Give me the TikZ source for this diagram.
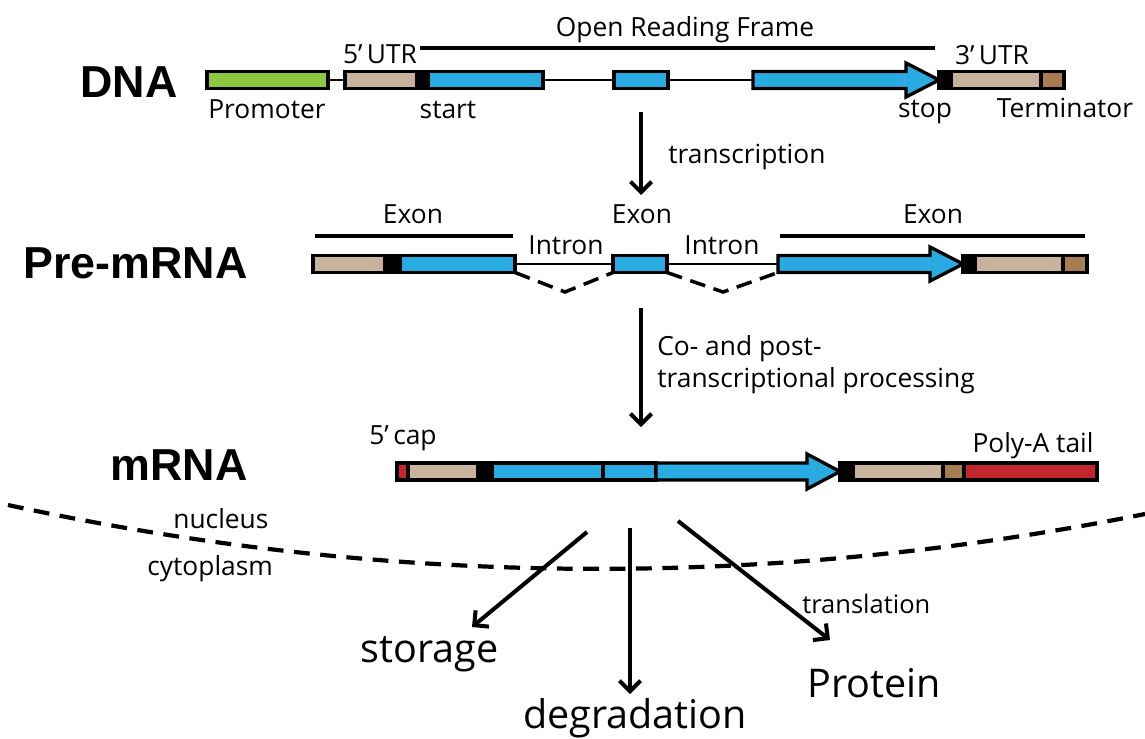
\documentclass[tikz,border=0pt]{standalone}
\usepackage{fontspec}
\setmainfont{Open Sans}
\setsansfont{Liberation Sans}
\usetikzlibrary{arrows.meta}
\definecolor{promcol}{HTML}{8DC63F}
\definecolor{utrcol}{HTML}{C9B29B}
\definecolor{cdscol}{HTML}{29ABE2}
\definecolor{termcol}{HTML}{A67C52}
\definecolor{capcol}{HTML}{C1272D}
\def\px{0.02cm}
\tikzstyle{seg}=[draw,line width=1.9pt,inner sep=0pt,outer sep=0pt,anchor=west,minimum height=17*\px]
\tikzstyle{outl}=[draw,line width=1.9pt,line join=miter]
\tikzstyle{line}=[black,line width=1.3pt]
\tikzstyle{bar}=[black,line width=2.3pt]
\tikzstyle{arrow}=[->,line width=2.3pt]
\tikzstyle{lbl}=[inner sep=0pt,anchor=base,font=\fontsize{15}{18}\selectfont]
\tikzstyle{big}=[inner sep=0pt,anchor=base west,font=\fontsize{22.5}{27}\selectfont]
\tikzstyle{row}=[inner sep=0pt,anchor=base east,font=\sffamily\bfseries\fontsize{25.5}{30}\selectfont]

\begin{document}
\begin{tikzpicture}[x=0.02cm,y=-0.02cm,>={Straight Barb[length=6pt,width=12pt]}]
	\useasboundingbox (0,0) rectangle (1145,738);

	% DNA
	\node[row] (dna) at (178,97) {DNA};
	\node[seg,fill=promcol,minimum width=121*\px] (d1) at (207,80) {};
	\node[seg,fill=utrcol,minimum width=72*\px] (d2) at (345,80) {};
	\node[seg,fill=black,minimum width=11*\px] (d3) at (d2.east) {};
	\node[seg,fill=cdscol,minimum width=115*\px] (d4) at (d3.east) {};
	\node[seg,fill=cdscol,minimum width=54*\px] (d5) at (614,80) {};
	\coordinate (d6) at (753,80);
	\draw[outl,fill=cdscol] (753,71.5) -- (906,71.5) -- (906,63) -- (939,80)
		-- (906,97) -- (906,88.5) -- (753,88.5) -- cycle;
	\node[seg,fill=black,minimum width=12*\px] (d7) at (939,80) {};
	\node[seg,fill=utrcol,minimum width=90*\px] (d8) at (d7.east) {};
	\node[seg,fill=termcol,minimum width=23*\px] (d9) at (d8.east) {};
	\draw[line] (d1) -- (d2);
	\draw[line] (d4) -- (d5);
	\draw[line] (d5) -- (d6);
	\draw[bar] (420,48) -- (935,48);
	\node[lbl] (orf) at (685,36) {Open Reading Frame};
	\node[lbl] (u5) at (380,63) {5’\,UTR};
	\node[lbl] (u3) at (992,64) {3’\,UTR};
	\node[lbl] (prom) at (267,118) {Promoter};
	\node[lbl] (start) at (448,118) {start};
	\node[lbl] (stop) at (925,117) {stop};
	\node[lbl] (term) at (1065,117) {Terminator};

	\coordinate (t0) at (641,112);
	\coordinate (t1) at (641,195);
	\draw[arrow] (t0) -- (t1);
	\node[lbl,anchor=base west] (tr) at (668,163) {transcription};

	% Pre-mRNA
	\node[row] (pre) at (248,278) {Pre-mRNA};
	\node[seg,fill=utrcol,minimum width=72*\px] (p1) at (313,264) {};
	\node[seg,fill=black,minimum width=15*\px] (p2) at (p1.east) {};
	\node[seg,fill=cdscol,minimum width=115*\px] (p3) at (p2.east) {};
	\node[seg,fill=cdscol,minimum width=54*\px] (p4) at (613,264) {};
	\coordinate (p5) at (778,264);
	\draw[outl,fill=cdscol] (778,255.5) -- (930,255.5) -- (930,247) -- (963,264)
		-- (930,281) -- (930,272.5) -- (778,272.5) -- cycle;
	\node[seg,fill=black,minimum width=12*\px] (p6) at (963,264) {};
	\node[seg,fill=utrcol,minimum width=88*\px] (p7) at (p6.east) {};
	\node[seg,fill=termcol,minimum width=24*\px] (p8) at (p7.east) {};
	\draw[line] (p3) -- (p4);
	\draw[line] (p4) -- (p5);
	\coordinate (v1) at (565,292);
	\coordinate (v2) at (723,292);
	\draw[line,line width=2pt,dash pattern=on 9pt off 5pt] (p3.south east) -- (v1) -- (p4.south west);
	\draw[line,line width=2pt,dash pattern=on 9pt off 5pt] (p4.south east) -- (v2) -- (778,272.5);
	\draw[bar] (315,236) -- (513,236);
	\draw[bar] (780,236) -- (1085,236);
	\node[lbl] (x1) at (413,223) {Exon};
	\node[lbl] (x2) at (642,223) {Exon};
	\node[lbl] (x3) at (933,223) {Exon};
	\node[lbl] (i1) at (566,254) {Intron};
	\node[lbl] (i2) at (722,254) {Intron};

	\coordinate (q0) at (641,308);
	\coordinate (q1) at (641,427);
	\draw[arrow] (q0) -- (q1);
	\node[lbl,anchor=base west] (co) at (657,355) {Co- and post-};
	\node[lbl,anchor=base west] (proc) at (657,387) {transcriptional processing};

	% mRNA
	\node[row] (mrna) at (248,480) {mRNA};
	\node[seg,fill=capcol,minimum width=11*\px] (m1) at (397,471.5) {};
	\node[seg,fill=utrcol,minimum width=70*\px] (m2) at (m1.east) {};
	\node[seg,fill=black,minimum width=14*\px] (m3) at (m2.east) {};
	\node[seg,fill=cdscol,minimum width=111*\px] (m4) at (m3.east) {};
	\node[seg,fill=cdscol,minimum width=53*\px] (m5) at (m4.east) {};
	\draw[outl,fill=cdscol] (656,463) -- (807,463) -- (807,454) -- (840,471.5)
		-- (807,489) -- (807,480) -- (656,480) -- cycle;
	\node[seg,fill=black,minimum width=13*\px] (m6) at (840,471.5) {};
	\node[seg,fill=utrcol,minimum width=90*\px] (m7) at (m6.east) {};
	\node[seg,fill=termcol,minimum width=21*\px] (m8) at (m7.east) {};
	\node[seg,fill=capcol,minimum width=133*\px] (m9) at (m8.east) {};
	\node[lbl] (cap) at (403,444) {5’\,cap};
	\node[lbl] (poly) at (1033,452) {Poly-A tail};

	% nucleus border
	\draw[line width=2.4pt,dash pattern=on 9pt off 6pt] (8,505) .. controls (387,587) and (766,590) .. (1145,514);
	\node[lbl,anchor=base west] (nuc) at (173,528) {nucleus};
	\node[lbl,anchor=base west] (cyt) at (147,575) {cytoplasm};

	% fates
	\coordinate (s0) at (587,532);
	\coordinate (s1) at (472,627);
	\coordinate (g0) at (630,528);
	\coordinate (g1) at (630,694);
	\coordinate (r0) at (678,521);
	\coordinate (r1) at (830,640);
	\draw[arrow] (s0) -- (s1);
	\draw[arrow] (g0) -- (g1);
	\draw[arrow] (r0) -- (r1);
	\node[lbl,anchor=base west,font=\fontsize{14.5}{17}\selectfont] (tl) at (802,613) {translation};
	\node[big] (sto) at (360,662) {storage};
	\node[big] (deg) at (523,728) {degradation};
	\node[big] (prot) at (807,697) {Protein};
\end{tikzpicture}
\end{document}
